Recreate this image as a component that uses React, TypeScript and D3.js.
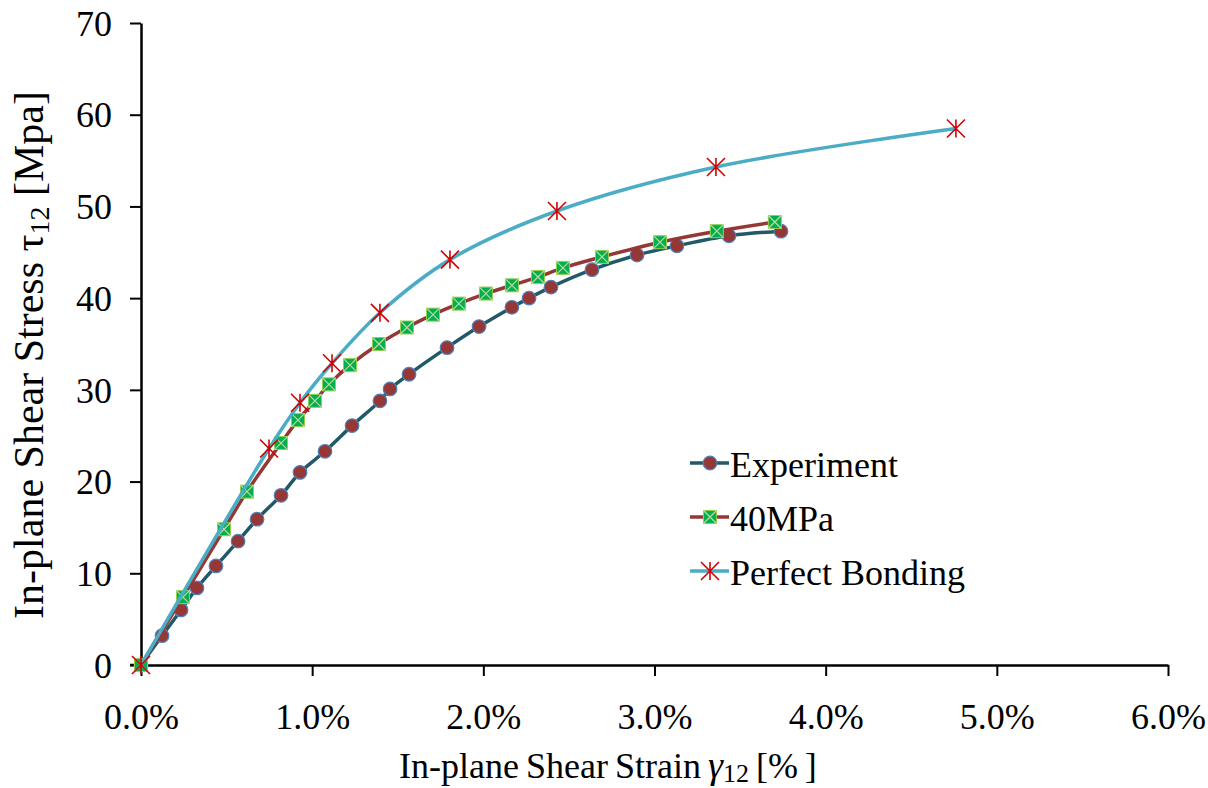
import React, { useEffect, useRef } from 'react';
import * as d3 from 'd3';

// strain in %, stress in MPa
const expStrain = [0, 0.123, 0.234, 0.327, 0.438, 0.567, 0.678, 0.818, 0.929, 1.075, 1.233, 1.396, 1.455, 1.566, 1.788, 1.975, 2.167, 2.267, 2.395, 2.635, 2.898, 3.131, 3.435, 3.739];
const expStress = [0, 3.2, 6.0, 8.4, 10.8, 13.5, 15.9, 18.5, 21.0, 23.3, 26.1, 28.8, 30.1, 31.7, 34.6, 36.9, 39.0, 40.0, 41.2, 43.1, 44.7, 45.7, 46.8, 47.3];

const bondStrain = [0, 0.245, 0.485, 0.619, 0.818, 0.917, 1.016, 1.098, 1.221, 1.39, 1.554, 1.706, 1.857, 2.015, 2.167, 2.319, 2.465, 2.693, 3.032, 3.364, 3.703];
const bondStress = [0, 7.4, 14.8, 18.9, 24.2, 26.7, 28.8, 30.6, 32.7, 35.0, 36.8, 38.2, 39.4, 40.5, 41.4, 42.3, 43.3, 44.5, 46.1, 47.3, 48.3];

const perfStrain = [0, 0.748, 0.929, 1.116, 1.396, 1.805, 2.43, 3.359, 4.761];
const perfStress = [0, 23.6, 28.6, 32.9, 38.4, 44.2, 49.5, 54.3, 58.5];

const xTicks = [0, 1, 2, 3, 4, 5, 6];
const yTicks = [0, 10, 20, 30, 40, 50, 60, 70];
const seriesNames = ['Experiment', '40MPa', 'Perfect Bonding'];

const FONT = '"Liberation Serif", "Times New Roman", serif';

const App = () => {
  const svgRef = useRef<SVGSVGElement>(null);

  useEffect(() => {
    const svg = d3.select(svgRef.current);
    const width = 1208;
    const height = 788;
    svg.attr('width', width).attr('height', height);

    const x = d3.scaleLinear().domain([0, 6]).range([141, 1168]);
    const y = d3.scaleLinear().domain([0, 70]).range([665, 23]);

    const zip = (xs: number[], ys: number[]) => xs.map((v, i) => [v, ys[i]] as [number, number]);
    const expData = zip(expStrain, expStress);
    const bondData = zip(bondStrain, bondStress);
    const perfData = zip(perfStrain, perfStress);

    // axes
    const xAxis = svg
      .append('g')
      .attr('transform', `translate(0,${y(0)})`)
      .call(d3.axisBottom(x).tickValues(xTicks).tickSize(11).tickSizeOuter(0).tickFormat((d) => `${(+d).toFixed(1)}%`));
    const yAxis = svg
      .append('g')
      .attr('transform', `translate(${x(0)},0)`)
      .call(d3.axisLeft(y).tickValues(yTicks).tickSize(11).tickSizeOuter(0));

    [xAxis, yAxis].forEach((a) => {
      a.select('.domain').attr('stroke', '#000').attr('stroke-width', 2.5);
      a.selectAll('.tick line').attr('stroke', '#000').attr('stroke-width', 2);
      a.selectAll('.tick text').attr('font-family', FONT).attr('font-size', 36).attr('fill', '#000');
    });
    xAxis.selectAll('.tick text').attr('dy', 0).attr('y', 64);
    yAxis.selectAll('.tick text').attr('x', -29).attr('dy', '0.34em');
    // extend x-axis line left to meet the 0 tick
    svg
      .append('line')
      .attr('x1', x(0) - 11)
      .attr('x2', x(0))
      .attr('y1', y(0))
      .attr('y2', y(0))
      .attr('stroke', '#000')
      .attr('stroke-width', 2.5);

    // axis titles
    const xt = svg
      .append('text')
      .attr('x', 399)
      .attr('y', 778)
      .attr('font-family', FONT)
      .attr('font-size', 36)
      .attr('fill', '#000')
      .attr('word-spacing', -2);
    xt.append('tspan').text('In-plane Shear Strain ');
    xt.append('tspan').attr('font-style', 'italic').attr('font-size', 38).text('γ');
    xt.append('tspan').attr('font-size', 26).attr('dy', 4).text('12');
    xt.append('tspan').attr('dy', -4).text(' [% ]');

    const yt = svg
      .append('text')
      .attr('transform', 'translate(43,355) rotate(-90)')
      .attr('text-anchor', 'middle')
      .attr('font-family', FONT)
      .attr('font-size', 42)
      .attr('fill', '#000');
    yt.append('tspan').text('In-plane Shear Stress  τ');
    yt.append('tspan').attr('font-size', 28).attr('dy', 6).text('12');
    yt.append('tspan').attr('dy', -6).text(' [Mpa]');

    const line = d3
      .line<[number, number]>()
      .x((d) => x(d[0]))
      .y((d) => y(d[1]))
      .curve(d3.curveCatmullRom);

    const plot = svg.append('g');

    // marker helpers
    const drawCircle = (g: any, cx: number, cy: number) =>
      g.append('circle').attr('cx', cx).attr('cy', cy).attr('r', 6.8).attr('fill', '#953735').attr('stroke', '#4f81bd').attr('stroke-width', 1.2);
    const drawSquare = (g: any, cx: number, cy: number) => {
      const s = 13;
      g.append('rect')
        .attr('x', cx - s / 2)
        .attr('y', cy - s / 2)
        .attr('width', s)
        .attr('height', s)
        .attr('fill', '#00b050')
        .attr('stroke', '#92d050')
        .attr('stroke-width', 1);
      g.append('path')
        .attr('d', `M${cx - s / 2},${cy - s / 2}L${cx + s / 2},${cy + s / 2}M${cx + s / 2},${cy - s / 2}L${cx - s / 2},${cy + s / 2}`)
        .attr('stroke', '#c3d69b')
        .attr('stroke-width', 1.2);
    };
    const drawStar = (g: any, cx: number, cy: number) => {
      const r = 9;
      g.append('path')
        .attr('d', `M${cx - r},${cy - r}L${cx + r},${cy + r}M${cx + r},${cy - r}L${cx - r},${cy + r}M${cx},${cy - r}L${cx},${cy + r}`)
        .attr('stroke', '#d40000')
        .attr('stroke-width', 1.6)
        .attr('fill', 'none');
    };

    // Experiment
    plot.append('path').datum(expData).attr('d', line).attr('fill', 'none').attr('stroke', '#215968').attr('stroke-width', 3.5);
    const gExp = plot.append('g');
    expData.forEach((d) => drawCircle(gExp, x(d[0]), y(d[1])));

    // 40MPa
    plot.append('path').datum(bondData).attr('d', line).attr('fill', 'none').attr('stroke', '#953735').attr('stroke-width', 3.5);
    const gBond = plot.append('g');
    bondData.forEach((d) => drawSquare(gBond, x(d[0]), y(d[1])));

    // Perfect Bonding
    plot.append('path').datum(perfData).attr('d', line).attr('fill', 'none').attr('stroke', '#4bacc6').attr('stroke-width', 3.5);
    const gPerf = plot.append('g');
    perfData.forEach((d) => drawStar(gPerf, x(d[0]), y(d[1])));

    // legend
    const legend = svg.append('g');
    const lineColors = ['#215968', '#953735', '#4bacc6'];
    const markers = [drawCircle, drawSquare, drawStar];
    seriesNames.forEach((name, i) => {
      const ly = 463 + i * 54;
      legend
        .append('line')
        .attr('x1', 690)
        .attr('x2', 729)
        .attr('y1', ly)
        .attr('y2', ly)
        .attr('stroke', lineColors[i])
        .attr('stroke-width', 3.5);
      markers[i](legend, 710, ly);
      legend
        .append('text')
        .attr('x', 730)
        .attr('y', ly + 14)
        .attr('font-family', FONT)
        .attr('font-size', 36)
        .attr('fill', '#000')
        .text(name);
    });

    return () => {
      svg.selectAll('*').remove();
    };
  }, []);

  return <svg ref={svgRef} style={{ position: 'absolute', left: 0, top: 0, background: '#fff' }}></svg>;
};

export default App;
